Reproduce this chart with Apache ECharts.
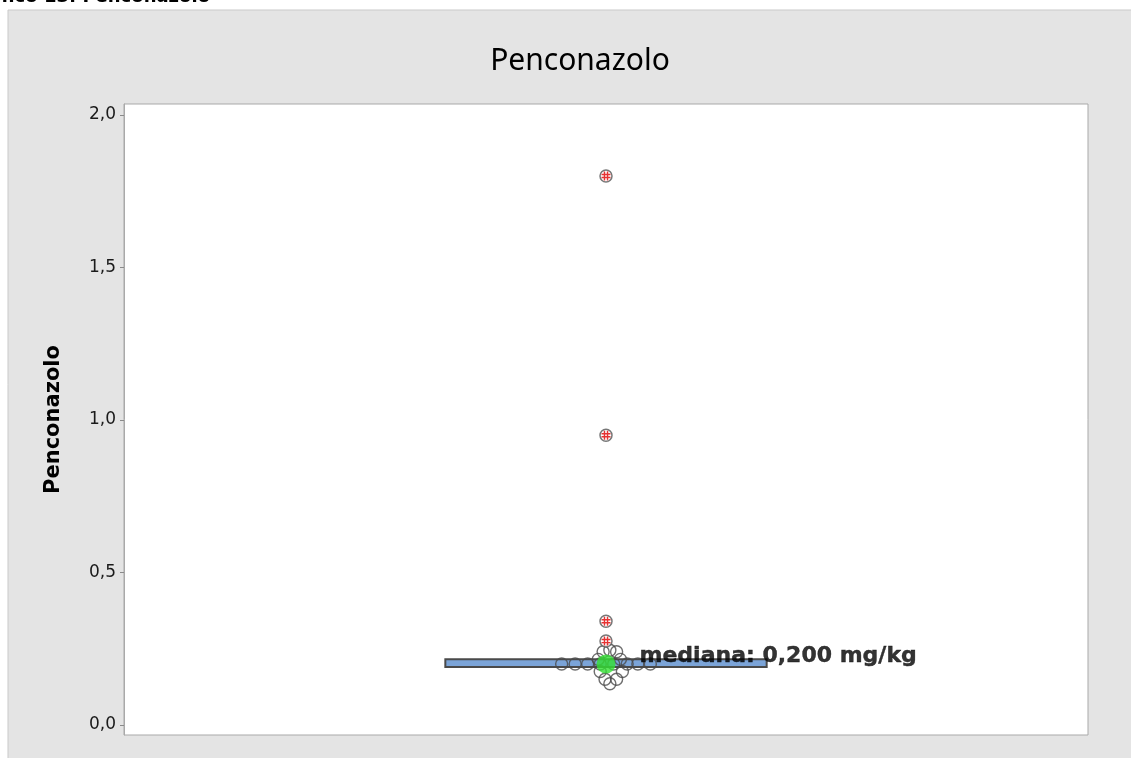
<!DOCTYPE html>
<html>
<head>
<meta charset="UTF-8">
<title>Penconazolo</title>
<script src="https://cdn.jsdelivr.net/npm/echarts@6/dist/echarts.min.js"></script>
<style>
  html, body { margin: 0; padding: 0; background: #fff; }
  #main { width: 1131px; height: 758px; }
</style>
</head>
<body>
<div id="main"></div>
<script>
// valori (mg/kg)
var yTicks = [0, 0.5, 1, 1.5, 2];
var boxQ1 = 0.19;
var boxQ3 = 0.215;
var median = 0.2;
var outliers = [1.8, 0.95, 0.34, 0.275];
// singoli valori (x = posizione con jitter, 0.5 = centro)
var pointX = [0.454, 0.468, 0.481, 0.494, 0.508, 0.522, 0.533, 0.546,
              0.497, 0.504, 0.511, 0.492, 0.515, 0.494, 0.517, 0.499, 0.504, 0.511];
var pointY = [0.2, 0.2, 0.2, 0.2, 0.2, 0.2, 0.2, 0.2,
              0.24, 0.245, 0.24, 0.215, 0.215, 0.175, 0.175, 0.15, 0.135, 0.15];

var chart = echarts.init(document.getElementById('main'));

var points = pointX.map(function (x, i) { return [x, pointY[i]]; });
var outlierData = outliers.map(function (v) { return [0.5, v]; });

var option = {
  backgroundColor: '#ffffff',
  animation: false,
  graphic: [
    {
      type: 'rect', z: -10,
      shape: { x: 8, y: 10, width: 1200, height: 800 },
      style: { fill: '#e4e4e4', stroke: '#c9c9c9', lineWidth: 1 }
    },
    {
      type: 'text', right: 921, top: -12,
      style: { text: 'Grafico 13: Penconazolo', font: 'bold 18px "DejaVu Sans"', fill: '#000' }
    }
  ],
  title: {
    text: 'Penconazolo',
    left: 575, top: 41, textAlign: 'center',
    textStyle: { fontFamily: 'Noto Sans', fontSize: 30, fontWeight: 'normal', color: '#000' }
  },
  grid: {
    left: 124, right: 43, top: 104, bottom: 23,
    show: true, backgroundColor: '#ffffff', borderColor: '#a9a9a9', borderWidth: 1
  },
  xAxis: {
    type: 'value', min: 0, max: 1,
    axisLine: { show: false }, axisTick: { show: false },
    axisLabel: { show: false }, splitLine: { show: false }
  },
  yAxis: {
    type: 'value', min: -0.033, max: 2.036,
    name: 'Penconazolo', nameLocation: 'middle', nameGap: 60,
    nameTextStyle: { fontFamily: 'DejaVu Sans', fontWeight: 'bold', fontSize: 21, color: '#000' },
    axisLine: { show: true, lineStyle: { color: '#a9a9a9' } },
    axisTick: { show: true, length: 4, customValues: yTicks, lineStyle: { color: '#8a8a8a' } },
    axisLabel: {
      customValues: yTicks, margin: 8,
      fontFamily: 'DejaVu Sans', fontSize: 17, color: '#1a1a1a',
      formatter: function (v) { return v.toFixed(1).replace('.', ','); }
    },
    splitLine: { show: false }
  },
  series: [
    {
      type: 'custom', z: 2,
      data: [[boxQ1, boxQ3]],
      renderItem: function (params, api) {
        var p1 = api.coord([1 / 3, api.value(1)]);
        var p2 = api.coord([2 / 3, api.value(0)]);
        return {
          type: 'rect',
          shape: { x: p1[0], y: p1[1], width: p2[0] - p1[0], height: p2[1] - p1[1] },
          style: { fill: '#7ba4d8', stroke: '#4a4a4a', lineWidth: 2 }
        };
      }
    },
    {
      type: 'scatter', z: 3,
      data: points, symbol: 'circle', symbolSize: 12,
      itemStyle: { color: 'rgba(255,255,255,0)', borderColor: '#4a4a4a', borderWidth: 1.4 }
    },
    {
      type: 'scatter', z: 4,
      data: [[0.5, median]], symbol: 'circle', symbolSize: 19,
      itemStyle: { color: '#33e033' },
      label: {
        show: true, position: 'right', distance: 24, offset: [0, -8],
        formatter: 'mediana: 0,200 mg/kg',
        fontFamily: 'DejaVu Sans', fontWeight: 'bold', fontSize: 22, color: '#000',
        textBorderColor: '#000', textBorderWidth: 0.4
      }
    },
    {
      type: 'scatter', z: 5,
      data: outlierData, symbol: 'circle', symbolSize: 12,
      itemStyle: { color: '#ffffff', borderColor: '#555555', borderWidth: 1.5 }
    },
    {
      type: 'scatter', z: 6,
      data: outlierData, symbolSize: 9,
      symbol: 'path://M2.5,0h1.6v10h-1.6z M5.9,0h1.6v10h-1.6z M0,2.5h10v1.6h-10z M0,5.9h10v1.6h-10z',
      itemStyle: { color: '#e00000' }
    }
  ]
};

chart.setOption(option);
</script>
</body>
</html>
